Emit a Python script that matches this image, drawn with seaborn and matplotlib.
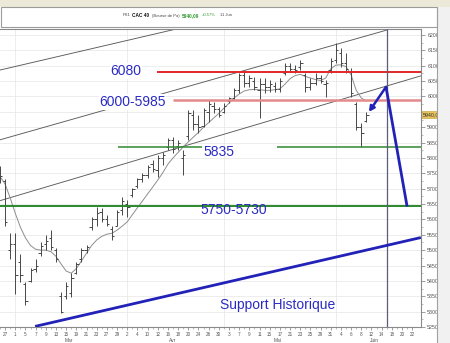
import matplotlib
matplotlib.use("Agg")
import matplotlib.pyplot as plt
import numpy as np
import seaborn as sns
from matplotlib.patches import Rectangle, FancyArrowPatch
from matplotlib.lines import Line2D

# ---------------- data ----------------
# trading days on the axis, from Feb 26 (index -1) to Jun 22 (index 80)
axis_days = ["26", "27", "28",
             "1", "2", "5", "6", "7", "8", "9", "12", "13", "14", "15", "16", "19", "20", "21", "22", "23",
             "26", "27", "28", "29", "30",
             "2", "3", "4", "5", "10", "11", "12", "13", "16", "17", "18", "19", "20", "23", "24", "25", "26",
             "27", "30",
             "2", "3", "4", "7", "8", "9", "10", "11", "14", "15", "16", "17", "18", "21", "22", "23", "24",
             "25", "28", "29", "30", "31",
             "1", "4", "5", "6", "7", "8", "11", "12", "13", "14", "15", "18", "19", "20", "21", "22"]
month_names = ["Mar", "Avr", "Mai", "Juin"]
month_days = [22, 19, 22, 16]          # trading days per month shown
first_month_offset = 3                 # Feb days before March

opens = [5760, 5725, 5500, 5520, 5460, 5390, 5400, 5440, 5490, 5520, 5540, 5500, 5350, 5350, 5360, 5425,
         5470, 5500, 5575, 5600, 5625, 5600, 5570, 5580, 5630, 5650, 5680, 5710, 5730, 5745, 5780, 5760,
         5800, 5835, 5860, 5840, 5800, 5870, 5940, 5910, 5905, 5950, 5970, 5960, 5950, 5985, 5995, 6020,
         6070, 6045, 6050, 6020, 6040, 6030, 6035, 6025, 6075, 6100, 6090, 6095, 6070, 6030, 6045, 6060,
         6040, 6085, 6120, 6140, 6110, 6080, 5975, 5900, 5920]
highs = [5775, 5730, 5557, 5557, 5486, 5398, 5443, 5470, 5525, 5550, 5567, 5508, 5365, 5395, 5427, 5460,
         5508, 5518, 5609, 5642, 5638, 5616, 5577, 5632, 5674, 5664, 5703, 5736, 5752, 5778, 5794, 5810,
         5820, 5866, 5869, 5859, 5827, 5956, 5956, 5940, 5963, 5989, 5983, 5966, 5979, 5999, 6028, 6077,
         6080, 6070, 6064, 6060, 6060, 6054, 6047, 6060, 6109, 6109, 6103, 6119, 6077, 6060, 6077, 6070,
         6054, 6125, 6174, 6158, 6141, 6093, 5982, 5914, 5950]
lows = [5720, 5580, 5470, 5356, 5398, 5323, 5398, 5430, 5480, 5500, 5500, 5460, 5297, 5340, 5346, 5421,
        5463, 5492, 5567, 5577, 5593, 5577, 5534, 5577, 5616, 5609, 5674, 5703, 5723, 5736, 5755, 5739,
        5778, 5827, 5817, 5827, 5745, 5859, 5892, 5882, 5901, 5918, 5947, 5934, 5947, 5979, 5989, 6012,
        6031, 6031, 6021, 5930, 6012, 6015, 6015, 6015, 6070, 6080, 6077, 6086, 6015, 6020, 6038, 6044,
        5999, 6077, 6109, 6096, 6077, 5999, 5892, 5836, 5917]
closes = [5740, 5590, 5520, 5420, 5420, 5335, 5435, 5450, 5515, 5530, 5510, 5470, 5300, 5385, 5410, 5455,
          5500, 5510, 5600, 5620, 5600, 5585, 5545, 5625, 5660, 5640, 5700, 5730, 5745, 5770, 5765, 5800,
          5810, 5860, 5830, 5850, 5810, 5945, 5910, 5900, 5955, 5975, 5960, 5940, 5970, 5995, 6020, 6070,
          6045, 6060, 6030, 6040, 6030, 6040, 6025, 6050, 6100, 6090, 6085, 6110, 6030, 6045, 6060, 6050,
          6045, 6115, 6150, 6110, 6090, 6010, 5900, 5880, 5940]
moving_avg = [5740, 5715, 5670, 5620, 5575, 5540, 5515, 5503, 5500, 5500, 5495, 5480, 5455, 5432, 5425, 5440,
              5465, 5490, 5515, 5533, 5545, 5552, 5555, 5565, 5578, 5592, 5615, 5638, 5660, 5683, 5705, 5728,
              5752, 5780, 5800, 5818, 5836, 5852, 5868, 5883, 5900, 5915, 5930, 5945, 5962, 5978, 5995, 6008,
              6018, 6022, 6023, 6022, 6020, 6020, 6022, 6025, 6040, 6058, 6068, 6072, 6065, 6060, 6055, 6052,
              6060, 6090, 6102, 6103, 6097, 6070, 6020, 5995, 5985]

last_price = 5940.09
level_6080 = 6080
level_6000 = 5990
level_5835 = 5835
level_5750 = 5645
# trend lines: (index, price) end points
top_line = [(-1, 6086), (40, 6244)]
upper_channel = [(-1, 5859), (75, 6216)]
lower_channel = [(-1, 5661), (81.7, 6067)]
support_line = [(5.9, 5252), (81.7, 5541)]
rebound_arrow = [(71.5, 5950), (74.85, 6031)]
target_line = [(74.85, 6031), (79, 5642)]
witching_day = 75

# ---------------- figure ----------------
W, H = 450, 343
sns.set_theme(style="white")
plt.rcParams['font.family'] = ['Liberation Sans', 'DejaVu Sans']
fig = plt.figure(figsize=(W / 100, H / 100), dpi=100)
fig.patch.set_facecolor("white")

def fx(px):
    return px / W

def fy(py):
    return 1 - py / H

# window chrome
fig.patches.append(Rectangle((0, fy(7)), 1, 7 / H, transform=fig.transFigure,
                             facecolor="#ece9d8", edgecolor="none", zorder=0))
fig.patches.append(Rectangle((fx(437), 0), 13 / W, fy(7), transform=fig.transFigure,
                             facecolor="#f1f1f1", edgecolor="none", zorder=0))
fig.lines.append(Line2D([fx(437), fx(437)], [0, fy(7)], transform=fig.transFigure,
                        color="#a0a0a0", lw=0.8))
fig.patches.append(Rectangle((fx(0.5), fy(27)), fx(436), 20 / H, transform=fig.transFigure,
                             facecolor="white", edgecolor="#9c9c9c", lw=0.8, zorder=1))
hy = fy(15.5)
fs_h = 3.0
fig.text(fx(123), hy, "PX1", fontsize=fs_h, color="#444", va="center")
fig.text(fx(132), hy, "CAC 40", fontsize=fs_h + 0.4, color="#111", va="center", fontweight="bold")
fig.text(fx(152), hy, "(Bourse de Pa)", fontsize=fs_h, color="#444", va="center")
fig.text(fx(182), hy, "5940,09", fontsize=fs_h + 0.4, color="#2e9a2e", va="center", fontweight="bold")
fig.text(fx(202), hy, "+0.57%", fontsize=fs_h, color="#2e9a2e", va="center")
fig.text(fx(220), hy, "11 Jun", fontsize=fs_h, color="#444", va="center")

ax = fig.add_axes([0, fy(327), fx(421), (327 - 29) / H])
ax.set_facecolor("white")
x0, x1 = -0.98, 81.73
y0, y1 = 5250, 6219.5
ax.set_xlim(x0, x1)
ax.set_ylim(y0, y1)

pos = np.arange(-1, -1 + len(closes))

# grid
for p in range(5300, 6250, 50):
    ax.axhline(p, color="#e6e6e6", lw=0.5, zorder=0)
month_start = [first_month_offset - 1]
for n in month_days[:-1]:
    month_start.append(month_start[-1] + n)
for ms in month_start:
    ax.axvline(ms, color="#e6e6e6", lw=0.5, zorder=0)

# OHLC bars
bar_c = "#484848"
ax.vlines(pos, lows, highs, color=bar_c, lw=0.7, zorder=3)
ax.hlines(opens, pos - 0.45, pos, color=bar_c, lw=0.7, zorder=3)
ax.hlines(closes, pos, pos + 0.45, color=bar_c, lw=0.7, zorder=3)

# moving average
sns.lineplot(x=pos, y=moving_avg, color="#8e8e8e", lw=0.7, ax=ax, zorder=2)

# trend lines
def seg(pts, **kw):
    (a, b), (c, d) = pts
    ax.plot([a, c], [b, d], **kw)

chan_c = "#5a5a5a"
seg(top_line, color=chan_c, lw=0.65, zorder=1)
seg(upper_channel, color=chan_c, lw=0.65, zorder=1)
seg(lower_channel, color=chan_c, lw=0.65, zorder=1)

# horizontal levels
ax.hlines(level_6080, 29.9, x1, color="#e02828", lw=1.4, zorder=4)
ax.hlines(level_6000, 33.0, x1, color="#e48a8a", lw=1.8, zorder=4)
ax.hlines(level_5835, 22.2, 38.7, color="#2f8a2f", lw=1.1, zorder=4)
ax.hlines(level_5835, 53.4, x1, color="#2f8a2f", lw=1.1, zorder=4)
ax.hlines(level_5750, x0, x1, color="#2a8a2a", lw=1.4, zorder=4)

# vertical line (June 15)
ax.axvline(witching_day, color="#5c5c7a", lw=0.9, zorder=4)

# blue drawings
blue = "#2222b8"
seg(support_line, color=blue, lw=2.0, zorder=5, solid_capstyle="butt")
seg(target_line, color=blue, lw=2.0, zorder=5, solid_capstyle="butt")
ax.add_patch(FancyArrowPatch(rebound_arrow[1], rebound_arrow[0], arrowstyle="-|>,head_length=3,head_width=1.6",
                             color=blue, lw=1.8, zorder=5, shrinkA=0, shrinkB=0))

# annotation texts
tc = "#2b2bc4"
tfs = 10
ax.text(23.8, 6083, "6080", color=tc, fontsize=tfs, ha="center", va="center", zorder=6,
        bbox=dict(facecolor="white", edgecolor="none", pad=0.5))
ax.text(18.5, 5982, "6000-5985", color=tc, fontsize=tfs, ha="left", va="center", zorder=6,
        bbox=dict(facecolor="white", edgecolor="none", pad=0.5))
ax.text(38.9, 5820, "5835", color=tc, fontsize=tfs, ha="left", va="center", zorder=6)
ax.text(38.3, 5632, "5750-5730", color=tc, fontsize=tfs, ha="left", va="center", zorder=6)
ax.text(42.2, 5320, "Support Historique", color=tc, fontsize=tfs, ha="left", va="center", zorder=6)

# spines
ax.spines["left"].set_visible(False)
for s in ["top", "right", "bottom"]:
    ax.spines[s].set_color("#8a8a8a")
    ax.spines[s].set_linewidth(0.8)

# y axis on the right
ax.yaxis.tick_right()
yt = [p for p in range(5250, 6250, 50) if p != 5950]
ax.set_yticks(yt)
ax.set_yticklabels([str(p) for p in yt])
ax.set_yticks(np.arange(5250, 6225, 25), minor=True)
ax.tick_params(axis="y", which="major", direction="out", length=3, width=0.5, color="#777",
               labelsize=3.8, labelcolor="#555", pad=1.5, right=True, left=False)
ax.tick_params(axis="y", which="minor", direction="out", length=1.5, width=0.4, color="#888",
               right=True, left=False)
ax.text(1.004, last_price, "5940,09", transform=ax.get_yaxis_transform(), fontsize=3.8, color="#333",
        va="center", ha="left", bbox=dict(facecolor="#e8c35c", edgecolor="#c89a30", pad=0.8, lw=0.4),
        clip_on=False)

# x axis
all_pos = np.arange(-1, -1 + len(axis_days))
maj = [p for p in all_pos if p >= 0 and p % 2 == 0]
ax.set_xticks(maj)
ax.set_xticklabels([axis_days[p + 1] for p in maj])
ax.set_xticks(all_pos, minor=True)
ax.tick_params(axis="x", which="major", direction="out", length=2.5, width=0.5, color="#777",
               labelsize=3.3, labelcolor="#555", pad=1.2, bottom=True)
ax.tick_params(axis="x", which="minor", direction="out", length=1.5, width=0.4, color="#888", bottom=True)
start = first_month_offset - 1
for name, n in zip(month_names, month_days):
    ctr = start + (n - 1) / 2
    ax.text(ctr, -0.045, name, transform=ax.get_xaxis_transform(), fontsize=3.5, color="#555",
            ha="center", va="center", clip_on=False)
    start += n
ax.set_xlabel("")
ax.set_ylabel("")

fig.savefig("out.png", dpi=100, facecolor=fig.get_facecolor())
